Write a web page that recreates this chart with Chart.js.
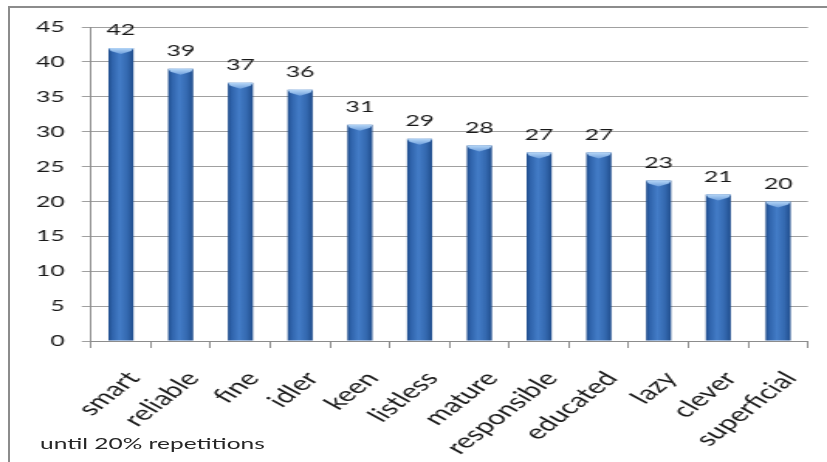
<!DOCTYPE html>
<html>
<head>
<meta charset="utf-8">
<title>until 20% repetitions</title>
<script src="https://cdn.jsdelivr.net/npm/chart.js@4.4.1/dist/chart.umd.min.js"></script>
<style>
  html, body { margin: 0; padding: 0; background: #fff; }
  body { width: 827px; height: 462px; position: relative; overflow: hidden; }
  #frame { position: absolute; left: 8px; top: 6px; width: 840px; height: 480px; border: 2px solid #8c8c8c; }
  #c { position: absolute; left: 0; top: 0; }
  #note { position: absolute; left: 40px; top: 433px; font: 15.8px Lato, sans-serif; color: #262626;
          transform: scaleX(1.55); transform-origin: left top; white-space: nowrap; }
</style>
</head>
<body>
<div id="frame"></div>
<!-- drawn narrow, then stretched wide by css -->
<canvas id="c" width="534" height="462" style="width:827px;height:462px"></canvas>
<div id="note">until 20% repetitions</div>
<script>
// words and how often each one came up
const categories = ['smart', 'reliable', 'fine', 'idler', 'keen', 'listless', 'mature', 'responsible', 'educated', 'lazy', 'clever', 'superficial'];
const counts = [42, 39, 37, 36, 31, 29, 28, 27, 27, 23, 21, 20];
const yTicks = [0, 5, 10, 15, 20, 25, 30, 35, 40, 45];

const BAR_FRAC = 0.42;
const FONT = { family: 'Lato, sans-serif', size: 16 };
const XFONT = { family: 'Lato, sans-serif', size: 20 };

// cylinder look: dark edges, lighter middle
function barGradient(ctx) {
  const chart = ctx.chart;
  const xs = chart.scales.x;
  if (!xs || ctx.type !== 'data') return '#3a6fb5';
  const cx = xs.getPixelForValue(ctx.dataIndex);
  const w = xs.width / categories.length * BAR_FRAC;
  if (!isFinite(cx) || !isFinite(w) || w <= 0) return '#3a6fb5';
  const g = chart.ctx.createLinearGradient(cx - w / 2, 0, cx + w / 2, 0);
  g.addColorStop(0, '#1f4c8b');
  g.addColorStop(0.15, '#2f63ab');
  g.addColorStop(0.45, '#437cc7');
  g.addColorStop(0.75, '#3469b0');
  g.addColorStop(1, '#204d8c');
  return g;
}

// light bevel at the top of each bar + the value above it
const barTops = {
  id: 'barTops',
  afterDatasetsDraw(chart) {
    const c = chart.ctx;
    const meta = chart.getDatasetMeta(0);
    meta.data.forEach((bar, i) => {
      const l = bar.x - bar.width / 2, r = bar.x + bar.width / 2, t = bar.y;
      const g = c.createLinearGradient(0, t, 0, t + 6);
      g.addColorStop(0, '#b5d6f7');
      g.addColorStop(1, '#6e9fdc');
      c.save();
      c.beginPath();
      c.moveTo(l, t);
      c.lineTo(r, t);
      c.lineTo(r - 1.5, t + 3);
      c.lineTo(bar.x, t + 6);
      c.lineTo(l + 1.5, t + 3);
      c.closePath();
      c.fillStyle = g;
      c.fill();
      c.restore();

      c.save();
      c.font = FONT.size + 'px ' + FONT.family;
      c.fillStyle = '#1a1a1a';
      c.textAlign = 'center';
      c.textBaseline = 'bottom';
      c.fillText(String(Math.round(counts[i])), bar.x, t - 10);
      c.restore();
    });
  }
};

new Chart(document.getElementById('c'), {
  type: 'bar',
  data: {
    labels: categories,
    datasets: [{
      data: counts,
      backgroundColor: barGradient,
      borderWidth: 0,
      barPercentage: BAR_FRAC,
      categoryPercentage: 1
    }]
  },
  options: {
    responsive: false,
    animation: false,
    layout: { padding: { top: 27, right: 12.3, left: 0, bottom: 0 } },
    plugins: { legend: { display: false }, tooltip: { enabled: false } },
    scales: {
      x: {
        grid: { offset: true, drawOnChartArea: false, color: '#8c8c8c', tickLength: 7 },
        border: { color: '#8c8c8c' },
        ticks: { font: XFONT, color: '#1a1a1a', minRotation: 50, maxRotation: 50, padding: 19, labelOffset: 8, autoSkip: false },
        // keep the rotated labels from squeezing the plot area
        afterFit: s => { s.height = 121; s.paddingLeft = 0; s.paddingRight = 0; }
      },
      y: {
        min: yTicks[0],
        max: yTicks[yTicks.length - 1],
        afterBuildTicks: s => { s.ticks = yTicks.map(v => ({ value: v })); },
        grid: { color: '#a0a0a0', tickLength: 6 },
        border: { color: '#8c8c8c' },
        ticks: { font: FONT, color: '#1a1a1a', padding: 11 },
        afterFit: s => { s.width = 58.8; }
      }
    }
  },
  plugins: [barTops]
});
</script>
</body>
</html>
